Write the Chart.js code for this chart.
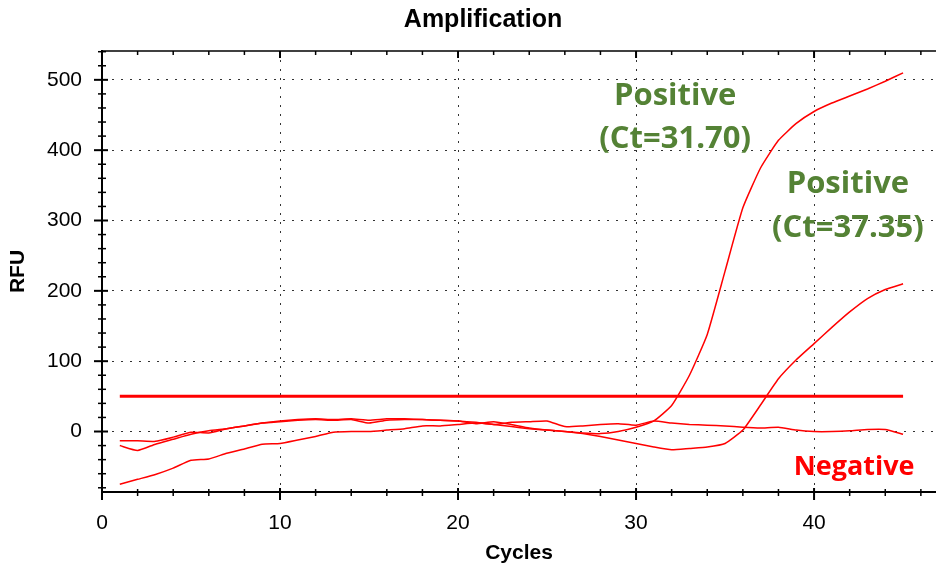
<!DOCTYPE html>
<html lang="en">
  <head>
    <meta charset="UTF-8" />
    <title>Amplification</title>
    <script src="https://cdn.jsdelivr.net/npm/chart.js"></script>
    <style>
      body { margin: 0; background: #fff; }
      #wrap { width: 936px; height: 568px; }
    </style>
  </head>
  <body>
    <div id="wrap"><canvas id="myChart"></canvas></div>
    <script>
      // cycles and RFU readings
      const cycles = [1, 2, 3, 4, 5, 6, 7, 8, 9, 10, 11, 12, 13, 14, 15, 16, 17, 18, 19, 20, 21, 22, 23,
        24, 25, 26, 27, 28, 29, 30, 31, 32, 33, 34, 35, 36, 37, 38, 39, 40, 41, 42, 43, 44, 45];
      const positiveEarly = [-20, -27, -18, -11, -4, 1, 4, 8, 12, 15, 17, 18, 17, 18, 16, 18, 18, 17, 16, 15, 11, 14, 10,
        5, 2, 0, -2, -3, 0, 6, 15, 37, 80, 138, 228, 318, 375, 414, 438, 455, 467, 477, 487, 498, 510];
      const positiveLate = [-75, -68, -61, -52, -41, -39, -31, -25, -18, -17, -12, -7, -1, 0, 0, 2, 4, 8, 8, 10, 12, 10, 7,
        4, 2, 0, -3, -7, -12, -17, -22, -26, -24, -22, -17, 2, 38, 75, 102, 125, 148, 170, 189, 202, 210];
      const negative = [-13, -13, -14, -8, -1, -2, 4, 8, 12, 14, 16, 17, 16, 17, 12, 16, 17, 17, 16, 15, 13, 10, 13,
        14, 15, 7, 8, 10, 11, 9, 15, 12, 10, 9, 8, 6, 5, 6, 2, 0, 0, 1, 3, 3, -4];
      const threshold = 50;
      const thresholdCycles = [1, 45];

      const xTicks = [0, 10, 20, 30, 40];
      const yTicks = [0, 100, 200, 300, 400, 500];

      // text notes, anchored in data units
      const notes = [
        { lines: ["Positive", "(Ct=31.70)"], x: 32.2, y: [464, 403], color: "#548235", size: 31 },
        { lines: ["Positive", "(Ct=37.35)"], x: 41.9, y: [339, 277], color: "#548235", size: 31 },
        { lines: ["Negative"], x: 42.25, y: [-62], color: "#ff0000", size: 27 },
      ];

      const pts = (vals) => cycles.map((c, i) => ({ x: c, y: vals[i] }));
      const red = "#ff0000";
      const sans = "'Liberation Sans', Arial, sans-serif";
      const tickFont = { family: sans, size: 21 };
      const boldFont = { family: sans, size: 21, weight: "bold" };

      const notesPlugin = {
        id: "notes",
        afterDatasetsDraw(chart) {
          const { ctx, scales } = chart;
          ctx.save();
          ctx.textAlign = "center";
          ctx.textBaseline = "alphabetic";
          notes.forEach((n) => {
            ctx.font = `bold ${n.size}px 'Open Sans', sans-serif`;
            ctx.fillStyle = n.color;
            n.lines.forEach((t, i) => {
              ctx.fillText(t, scales.x.getPixelForValue(n.x), scales.y.getPixelForValue(n.y[i]));
            });
          });
          // chart title, a little right of the page centre as in the original
          ctx.font = `bold 25px ${sans}`;
          ctx.fillStyle = "#000";
          ctx.textBaseline = "middle";
          ctx.fillText("Amplification", 483, 20);
          ctx.restore();
        },
      };

      // top frame + major/minor tick marks crossing the axes
      const frameTicks = {
        id: "frameTicks",
        afterDraw(chart) {
          const { ctx, chartArea: a, scales: { x, y } } = chart;
          const seg = (x1, y1, x2, y2, w) => {
            ctx.lineWidth = w;
            ctx.beginPath();
            ctx.moveTo(x1, y1);
            ctx.lineTo(x2, y2);
            ctx.stroke();
          };
          ctx.save();
          ctx.strokeStyle = "#000";
          seg(a.left, a.top, a.right, a.top, 1.5);
          for (let v = 0; v <= x.max; v += 2) {
            const px = x.getPixelForValue(v);
            const major = xTicks.includes(v);
            seg(px, a.bottom - (major ? 4 : 3), px, a.bottom + (major ? 8 : 4), major ? 2 : 1.5);
            seg(px, a.top, px, a.top + (major ? 7 : 4), major ? 2 : 1.5);
          }
          for (let v = -80; v <= y.max; v += 20) {
            const py = y.getPixelForValue(v);
            const major = yTicks.includes(v);
            seg(a.left - (major ? 8 : 4), py, a.left + (major ? 6 : 4), py, major ? 2 : 1.5);
          }
          ctx.restore();
        },
      };

      const line = (vals, w) => ({
        data: pts(vals),
        borderColor: red,
        borderWidth: w,
        pointRadius: 0,
        tension: 0.15,
        fill: false,
      });

      const ctx = document.getElementById("myChart").getContext("2d");
      const myChart = new Chart(ctx, {
        type: "line",
        data: {
          datasets: [
            line(negative, 1.5),
            line(positiveLate, 1.5),
            line(positiveEarly, 1.5),
            {
              data: thresholdCycles.map((c) => ({ x: c, y: threshold })),
              borderColor: red,
              borderWidth: 3,
              pointRadius: 0,
            },
          ],
        },
        options: {
          responsive: true,
          maintainAspectRatio: false,
          animation: false,
          layout: { padding: { top: 51, left: 0, right: 0, bottom: 0 } },
          plugins: {
            legend: { display: false },
            tooltip: { enabled: false },
            title: { display: false },
          },
          scales: {
            x: {
              type: "linear",
              min: 0,
              max: 46.85,
              afterFit: (s) => { s.height = 76; },
              ticks: {
                stepSize: 10,
                color: "#000",
                font: tickFont,
                padding: 19,
                maxRotation: 0,
                callback: (v) => (xTicks.includes(v) ? v : null),
              },
              grid: { color: "#333", lineWidth: 1, drawTicks: false },
              border: { color: "#000", width: 2, dash: [2, 7] },
              title: { display: true, text: "Cycles", color: "#000", font: boldFont, padding: { top: 0, bottom: 2 } },
            },
            y: {
              min: -86,
              max: 541,
              afterFit: (s) => { s.width = 102; },
              ticks: {
                stepSize: 100,
                color: "#000",
                font: tickFont,
                padding: 20,
                callback: (v) => (yTicks.includes(v) ? v : null),
              },
              grid: { color: "#333", lineWidth: 1, drawTicks: false },
              border: { color: "#000", width: 2, dash: [2, 7] },
              title: { display: true, text: "RFU", color: "#000", font: boldFont, padding: { top: 6, bottom: 0 } },
            },
          },
        },
        plugins: [notesPlugin, frameTicks],
      });
    </script>
  </body>
</html>
